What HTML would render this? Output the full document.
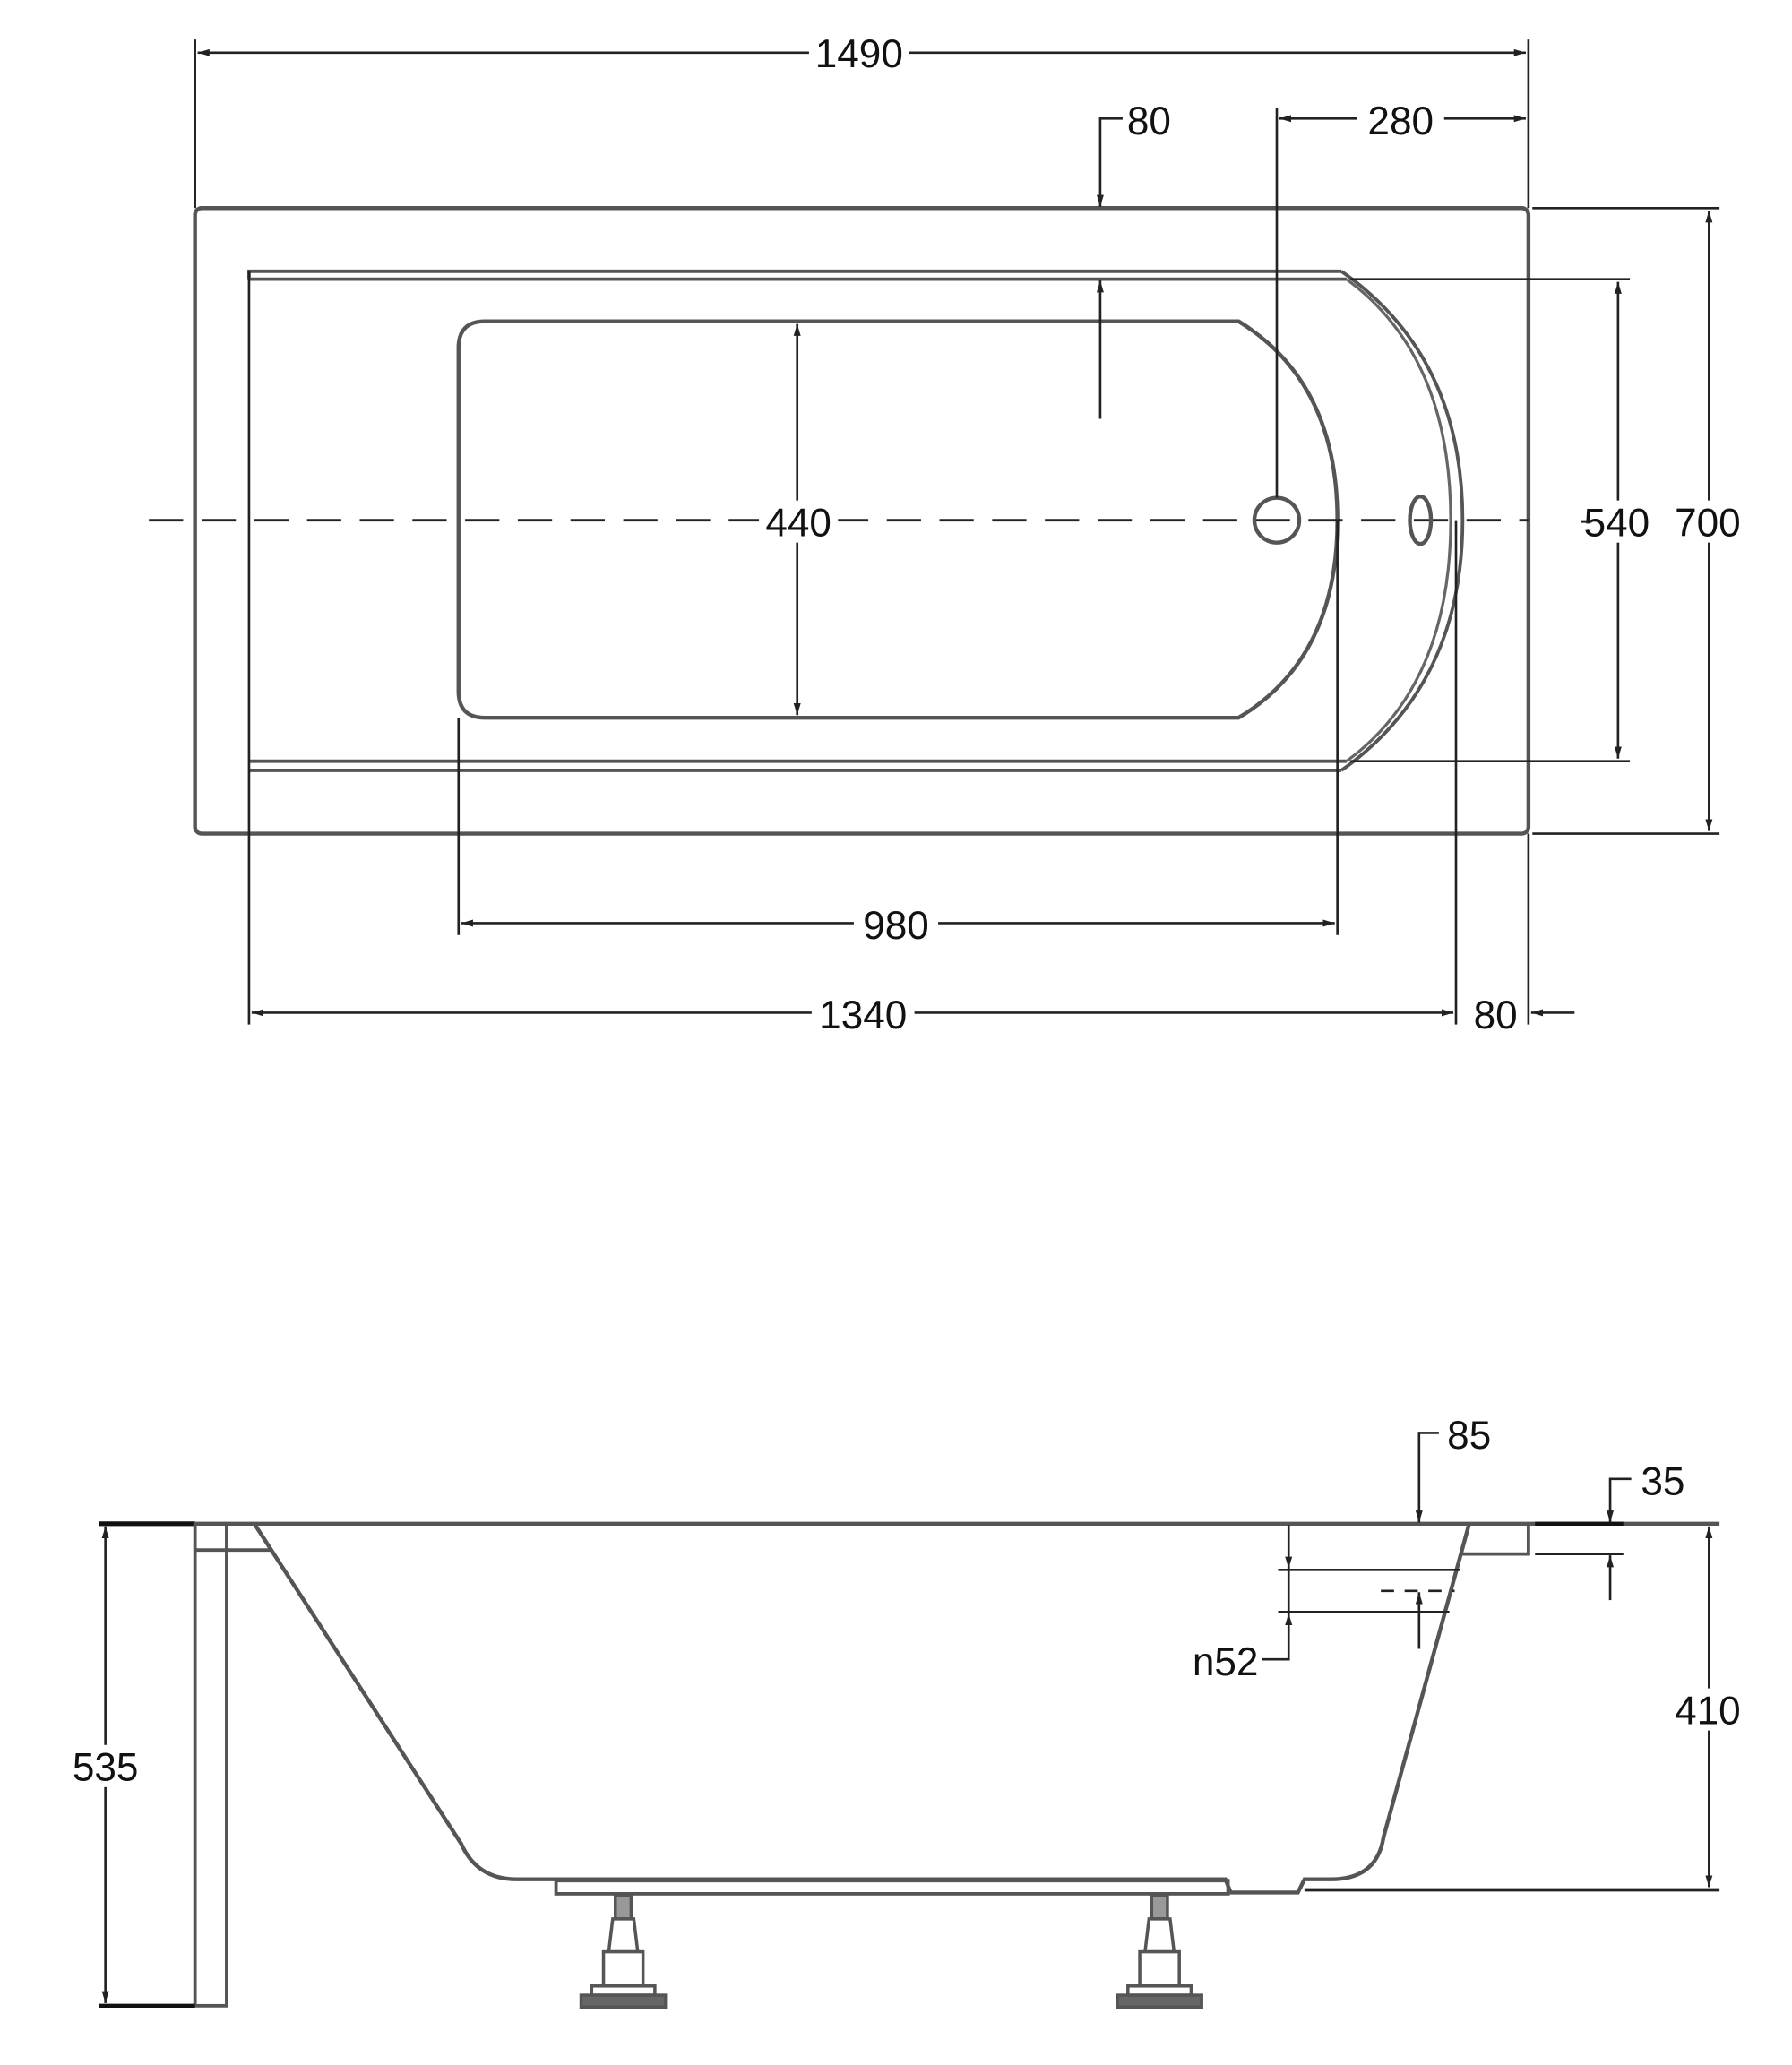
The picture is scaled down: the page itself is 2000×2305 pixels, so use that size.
<!DOCTYPE html>
<html><head><meta charset="utf-8"><style>
html,body{margin:0;padding:0;background:#fff;}
svg{display:block;}
text{font-family:"Liberation Sans",sans-serif;font-size:30px;fill:#111;}
</style></head><body>
<svg width="2000" height="2305" viewBox="0 0 1360 1568" preserveAspectRatio="none" xmlns="http://www.w3.org/2000/svg">
<defs>
<marker id="a" viewBox="0 0 10 10" refX="10" refY="5" markerWidth="9" markerHeight="9" orient="auto-start-reverse" markerUnits="userSpaceOnUse"><path d="M0,2 L10,5 L0,8 z" fill="#222"/></marker>
</defs>
<g fill="none" stroke="#222" stroke-width="1.8">
<!-- TOP VIEW -->
<line x1="148" y1="30" x2="148" y2="158"/>
<line x1="1160" y1="30" x2="1160" y2="158"/>
<line x1="150" y1="40" x2="1158" y2="40" marker-start="url(#a)" marker-end="url(#a)"/>
<rect x="148" y="158" width="1012" height="475" rx="5" stroke-width="3" stroke="#555"/>
<path d="M189,212 L189,206 L1018,206 M189,212 L1022,212" stroke-width="2.6" stroke="#555"/>
<path d="M189,578 L1022,578 M189,585 L1018,585" stroke-width="2.6" stroke="#555"/>
<line x1="189" y1="206" x2="189" y2="778"/>
<path d="M1018,206 Q1110,270 1110,395 Q1110,520 1018,585" stroke-width="2.6" stroke="#555"/>
<path d="M1022,212 Q1101,270 1101,395 Q1101,520 1022,578" stroke-width="2.2" stroke="#666"/>
<path d="M368,244 L940,244 Q1015,290 1015,395 Q1015,500 940,545 L368,545 Q348,545 348,525 L348,264 Q348,244 368,244 Z" stroke-width="3" stroke="#555"/>
<line x1="348" y1="545" x2="348" y2="710"/>
<line x1="1015" y1="395" x2="1015" y2="710"/>
<line x1="350" y1="701" x2="1013" y2="701" marker-start="url(#a)" marker-end="url(#a)"/>
<line x1="1105" y1="395" x2="1105" y2="778"/>
<line x1="1160" y1="633" x2="1160" y2="778"/>
<line x1="191" y1="769" x2="1103" y2="769" marker-start="url(#a)" marker-end="url(#a)"/>
<line x1="1195" y1="769" x2="1162" y2="769" marker-end="url(#a)"/>
<line x1="113" y1="395" x2="1160" y2="395" stroke-dasharray="26,14" stroke-width="2"/>
<circle cx="969" cy="395" r="17" stroke-width="3" stroke="#555"/>
<ellipse cx="1078" cy="395" rx="8" ry="18" stroke-width="3" stroke="#555"/>
<line x1="969" y1="82" x2="969" y2="378"/>
<line x1="971" y1="90" x2="1158" y2="90" marker-start="url(#a)" marker-end="url(#a)"/>
<polyline points="852,90 835,90 835,157" marker-end="url(#a)"/>
<line x1="835" y1="318" x2="835" y2="213" marker-end="url(#a)"/>
<line x1="605" y1="246" x2="605" y2="543" marker-start="url(#a)" marker-end="url(#a)"/>
<line x1="1025" y1="212" x2="1237" y2="212"/>
<line x1="1025" y1="578" x2="1237" y2="578"/>
<line x1="1228" y1="214" x2="1228" y2="576" marker-start="url(#a)" marker-end="url(#a)"/>
<line x1="1163" y1="158" x2="1305" y2="158"/>
<line x1="1163" y1="633" x2="1305" y2="633"/>
<line x1="1297" y1="160" x2="1297" y2="631" marker-start="url(#a)" marker-end="url(#a)"/>

<!-- SIDE VIEW -->
<line x1="75" y1="1157" x2="1305" y2="1157" stroke-width="3" stroke="#555"/>
<line x1="75" y1="1157" x2="148" y2="1157" stroke-width="3.5" stroke="#111"/>
<rect x="148" y="1157" width="24" height="366" stroke-width="2.6" stroke="#555"/>
<line x1="148" y1="1177" x2="205" y2="1177" stroke-width="2.6" stroke="#555"/>
<path d="M193,1157 L350,1400 Q362,1427 392,1427 L930,1427 L934,1437 L985,1437 L990,1427 L1010,1427 Q1045,1427 1050,1395 L1115,1157" stroke-width="3" stroke="#555"/>
<path d="M1110,1180 L1160,1180 L1160,1157" stroke-width="2.6" stroke="#555"/>
<rect x="422" y="1428" width="510" height="10" stroke-width="2.6" stroke="#555"/>
<line x1="990" y1="1435" x2="1305" y2="1435" stroke-width="2.6"/>
<line x1="75" y1="1523" x2="148" y2="1523" stroke-width="3" stroke="#111"/>
<line x1="80" y1="1159" x2="80" y2="1521" marker-start="url(#a)" marker-end="url(#a)"/>
<line x1="1297" y1="1159" x2="1297" y2="1433" marker-start="url(#a)" marker-end="url(#a)"/>
<polyline points="1092,1088 1077,1088 1077,1156" marker-end="url(#a)"/>
<line x1="1165" y1="1157" x2="1232" y2="1157" stroke-width="3" stroke="#111"/>
<line x1="1165" y1="1180" x2="1232" y2="1180"/>
<polyline points="1238,1123 1222,1123 1222,1156" marker-end="url(#a)"/>
<line x1="1222" y1="1215" x2="1222" y2="1181" marker-end="url(#a)"/>
<line x1="978" y1="1158" x2="978" y2="1191" marker-end="url(#a)"/>
<polyline points="958,1260 978,1260 978,1225" marker-end="url(#a)"/>
<line x1="978" y1="1190" x2="978" y2="1226"/>
<line x1="970" y1="1192" x2="1108" y2="1192"/>
<line x1="970" y1="1224" x2="1100" y2="1224"/>
<line x1="1048" y1="1208" x2="1104" y2="1208" stroke-dasharray="10,8"/>
<line x1="1077" y1="1252" x2="1077" y2="1209" marker-end="url(#a)"/>
</g>
<g fill="#fff" stroke="#555" stroke-width="2.4">
<g transform="translate(473,0)">
<rect x="-6" y="1439" width="12" height="18" fill="#999"/>
<path d="M-8,1457 L8,1457 L11,1482 L-11,1482 Z"/>
<rect x="-15" y="1482" width="30" height="26"/>
<rect x="-24" y="1508" width="48" height="7"/>
<rect x="-32" y="1515" width="64" height="9" fill="#666"/>
</g>
<g transform="translate(880,0)">
<rect x="-6" y="1439" width="12" height="18" fill="#999"/>
<path d="M-8,1457 L8,1457 L11,1482 L-11,1482 Z"/>
<rect x="-15" y="1482" width="30" height="26"/>
<rect x="-24" y="1508" width="48" height="7"/>
<rect x="-32" y="1515" width="64" height="9" fill="#666"/>
</g>
</g>
<g text-anchor="middle">
<rect x="614" y="24" width="76" height="32" fill="#fff"/>
<text x="652" y="51">1490</text>
<text x="872" y="102">80</text>
<rect x="1030" y="74" width="66" height="32" fill="#fff"/>
<text x="1063" y="102">280</text>
<rect x="576" y="380" width="60" height="32" fill="#fff"/>
<text x="606" y="407">440</text>
<rect x="1198" y="380" width="60" height="32" fill="#fff"/>
<text x="1227" y="407">540</text>
<line x1="1200" y1="396" x2="1208" y2="396" stroke="#222" stroke-width="2"/>
<rect x="1264" y="380" width="64" height="32" fill="#fff"/>
<text x="1296" y="407">700</text>
<rect x="648" y="685" width="64" height="32" fill="#fff"/>
<text x="680" y="713">980</text>
<rect x="616" y="753" width="78" height="32" fill="#fff"/>
<text x="655" y="781">1340</text>
<rect x="1114" y="753" width="42" height="32" fill="#fff"/>
<text x="1135" y="781">80</text>
<text x="1115" y="1100">85</text>
<text x="1262" y="1135">35</text>
<text x="930" y="1272">n52</text>
<rect x="48" y="1325" width="64" height="32" fill="#fff"/>
<text x="80" y="1352">535</text>
<rect x="1264" y="1282" width="64" height="32" fill="#fff"/>
<text x="1296" y="1309">410</text>
</g>
</svg>
</body></html>
